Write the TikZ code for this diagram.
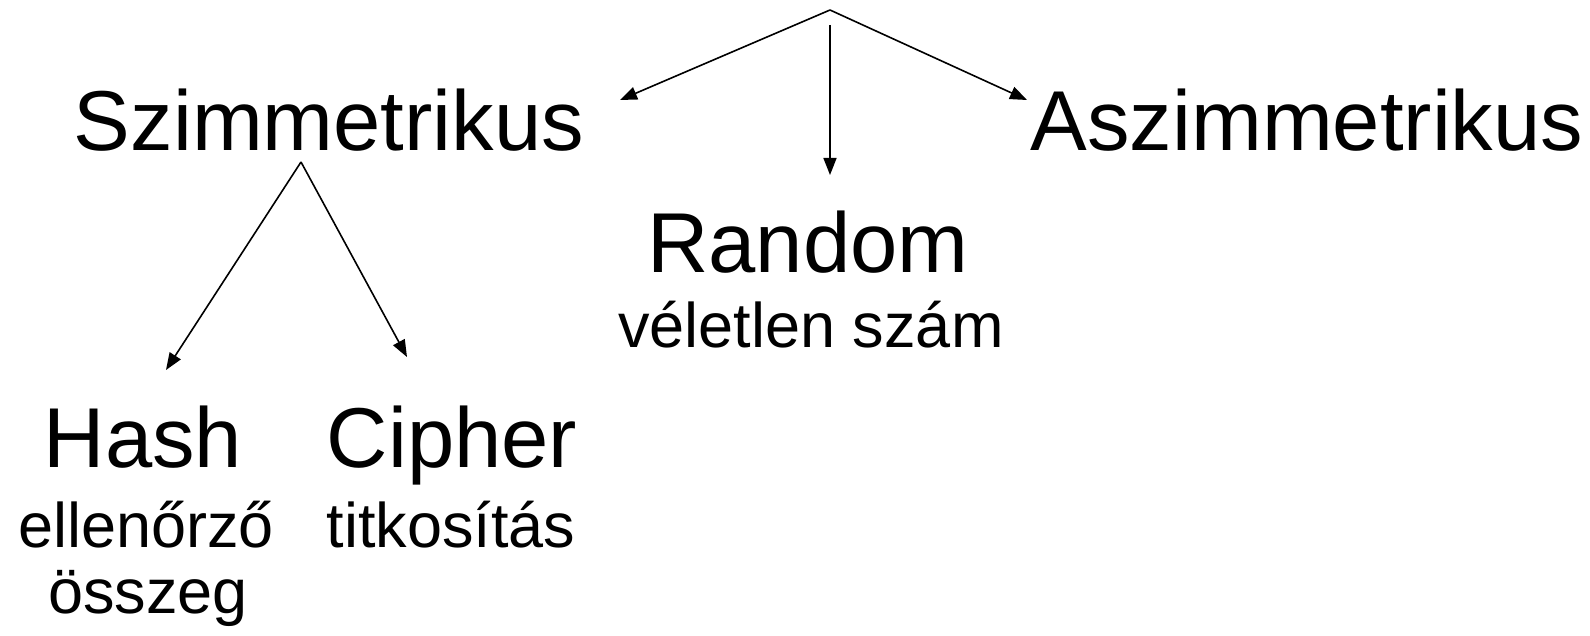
\documentclass[tikz,border=0pt]{standalone}
\usepackage{fontspec}
\setmainfont{Liberation Sans}
\usetikzlibrary{arrows.meta}
\begin{document}
\begin{tikzpicture}[x=1pt,y=-1pt,
  big/.style={font=\fontsize{85}{100}\selectfont, anchor=base, inner sep=0pt},
  small/.style={font=\fontsize{63}{75}\selectfont, anchor=base, inner sep=0pt},
  arr/.style={-{Triangle[length=17pt,width=13pt]}, line width=1.6pt}]
\useasboundingbox (0,0) rectangle (1590,636);
% nodes
\node[big] (szim) at (329,151) {Szimmetrikus};
\node[big] (aszim) at (1307,151) {Aszimmetrikus};
\node[big] (random) at (808,273) {Random};
\node[small] (velet) at (811,347) {véletlen szám};
\node[big] (hash) at (143,467) {Hash};
\node[big] (cipher) at (452,467) {Cipher};
\node[small] (ellen) at (146,547) {ellenőrző};
\node[small] (titk) at (451,547) {titkosítás};
\node[small] (osszeg) at (148,613) {összeg};
% connector points
\coordinate (top) at (830,10);
\coordinate (topv) at (830,25);
\coordinate (szimin) at (620,100);
\coordinate (aszimin) at (1027,100);
\coordinate (randin) at (830,175);
\coordinate (szimout) at (301,162);
\coordinate (hashin) at (166,370);
\coordinate (cipherin) at (407,357);
% connectors
\draw[arr] (top) -- (szimin);
\draw[arr] (top) -- (aszimin);
\draw[arr] (topv) -- (randin);
\draw[arr] (szimout) -- (hashin);
\draw[arr] (szimout) -- (cipherin);
\end{tikzpicture}
\end{document}
